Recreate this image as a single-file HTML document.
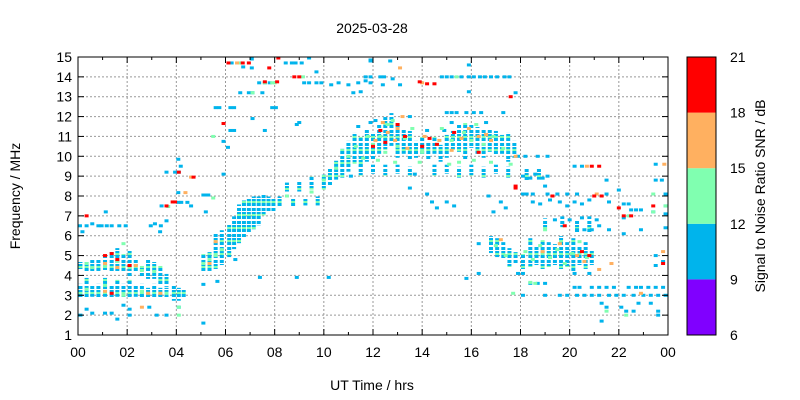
<!DOCTYPE html>
<html><head><meta charset="utf-8"><style>
body{margin:0;background:#fff;}
svg{display:block;font-family:"Liberation Sans",Arial,sans-serif;}
</style></head><body>
<svg id="chart" width="800" height="400" viewBox="0 0 800 400" xmlns="http://www.w3.org/2000/svg">
<defs>
<pattern id="streakFill" patternUnits="userSpaceOnUse" width="4" height="13">
<rect width="4" height="13" fill="#fff"/>
<rect y="0" width="4" height="3" fill="#00b4ec"/>
<rect y="4" width="4" height="2" fill="#00b4ec"/>
<rect y="6" width="4" height="2" fill="#80ffb0"/>
<rect y="8" width="4" height="3" fill="#00b4ec"/>
</pattern>
</defs>
<rect width="800" height="400" fill="#fff"/>
<text x="372" y="33" font-size="14" text-anchor="middle">2025-03-28</text>
<g id="grid"></g>
<g id="marks"></g>
<g id="axes"></g>
<text x="372" y="390" font-size="14" text-anchor="middle">UT Time / hrs</text>
<text transform="translate(20,196) rotate(-90)" font-size="14" text-anchor="middle">Frequency / MHz</text>
<g id="cbar"></g>
<text transform="translate(765,196) rotate(-90)" font-size="14" text-anchor="middle">Signal to Noise Ratio SNR / dB</text>
</svg>
<script>
const xTickLabels = ["00","02","04","06","08","10","12","14","16","18","20","22","00"];
const yTickLabels = [1,2,3,4,5,6,7,8,9,10,11,12,13,14,15];
const snrBounds = [6,9,12,15,18,21];
const snrColors = ["#8000ff","#00b4ec","#80ffb0","#ffb060","#ff0000"];
// streaks: [hour, fLow, fHigh] (mostly blue, SNR ~10)
const streaks = [
[0.1,4.4,4.6],[0.35,4.25,4.6],[0.58,4.2,4.7],[0.83,4.3,4.8],[1.1,4.35,4.9],[1.37,4.2,5.1],[1.6,4.2,5.3],[1.85,4.3,5.0],[2.1,4.0,5.2],[2.35,4.2,4.8],[2.6,4.0,4.4],[2.85,3.9,4.8],[3.1,3.9,4.6],[3.35,3.6,4.4],[3.6,3.5,4.0],
[0.1,2.9,3.5],[0.35,2.9,3.8],[0.58,3.0,3.4],[0.83,2.9,3.5],[1.1,3.0,3.8],[1.37,2.9,3.4],[1.6,3.0,3.7],[1.85,2.9,3.5],[2.1,2.9,3.7],[2.35,3.0,3.4],[2.6,2.9,3.5],[2.85,2.9,3.3],[3.1,2.9,3.5],[3.35,2.9,3.3],[3.6,2.9,3.3],[3.9,2.8,3.4],[4.1,2.8,3.3],[4.3,2.9,3.2],
[5.1,4.3,5.0],[5.35,4.3,5.1],[5.6,4.4,6.1],[5.85,4.6,6.2],
[6.15,5.0,6.5],[6.35,5.4,6.9],[6.55,5.7,7.5],[6.75,6.0,7.7],[6.95,6.2,7.8],[7.15,6.4,7.9],[7.35,6.6,7.9],[7.55,7.1,8.0],[7.75,7.3,7.9],[7.95,7.3,7.8],
[8.2,7.5,7.9],[8.5,8.3,8.6],[8.75,7.5,7.8],[9.0,8.3,8.7],[9.25,7.6,7.8],[9.5,8.4,8.9],[9.75,7.6,7.9],[10.0,8.4,9.0],[10.25,8.6,9.3],[10.5,8.9,9.7],[10.75,9.0,10.3],[11.0,9.3,10.7],[11.25,9.7,11.1],[11.5,9.5,10.9],[11.75,9.8,11.3],
[12.0,9.9,11.1],[12.25,10.2,11.5],[12.5,10.4,11.9],[12.75,10.6,12.1],[13.0,10.0,11.6],[13.25,10.2,11.3],[13.5,9.9,11.2],[13.75,10.0,10.7],[14.0,10.1,10.9],[14.25,9.9,10.6],[14.5,10.2,10.9],[14.75,9.8,10.5],[15.0,10.0,11.0],[15.25,10.4,11.2],[15.5,10.3,11.5],[15.75,9.9,11.6],[16.0,10.5,11.5],[16.25,10.2,11.4],[16.5,10.0,11.3],[16.75,10.3,11.3],[17.0,10.1,11.2],[17.25,10.2,11.0],[17.5,9.8,11.1],[17.75,10.0,10.7],
[11.5,9.1,9.5],[12.0,9.2,9.5],[12.5,9.1,9.5],[13.0,9.2,9.5],[13.5,9.1,9.4],[14.5,9.1,9.5],[15.0,9.2,9.5],[15.5,9.0,9.4],[16.0,9.1,9.5],[16.5,9.0,9.4],[17.0,9.2,9.5],[17.5,9.0,9.4],[18.25,8.8,9.3],[18.75,8.9,9.3],
[16.8,5.2,5.9],[17.05,5.0,5.8],[17.3,4.9,5.6],[17.55,4.5,5.3],[17.8,4.7,5.1],[18.1,4.4,5.0],[18.4,4.5,5.8],[18.65,4.6,5.4],[18.9,4.4,5.7],[19.15,4.5,5.6],[19.4,4.6,5.5],[19.65,4.4,5.9],[19.9,4.5,5.6],[20.15,4.3,5.8],[20.4,4.6,5.4],[20.65,4.4,5.6],[20.9,4.6,5.2],[19.0,6.4,6.8],[19.7,6.5,6.9],[20.3,6.2,6.7],[20.8,6.2,6.9]
];
const blueSpots = [
[0.08,6.5],[0.35,6.5],[0.58,6.6],[0.83,6.5],[0.96,6.5],[1.17,6.5],[1.37,6.5],[1.68,6.5],[1.94,6.5],[2.96,6.5],[3.13,6.6],[3.37,6.5],[3.34,6.2],[3.6,6.75],[1.13,7.2],[0.18,6.2],
[0.1,2.0],[0.35,2.3],[0.58,2.1],[1.1,2.1],[1.37,2.1],[1.6,1.8],[1.85,2.5],[2.1,2.0],[2.1,2.3],[2.9,2.4],[3.2,2.0],[3.6,2.0],[4.1,2.4],[5.1,1.6],
[3.6,9.2],[3.95,9.2],[4.1,9.2],[4.08,9.85],[4.18,9.5],[4.08,8.17],[4.08,7.68],[4.2,7.68],[4.45,7.68],[4.6,7.5],[5.1,8.05],[5.2,8.05],[5.3,8.05],[5.2,7.2],[3.4,7.5],[5.67,3.7],[5.1,3.55],[6.4,4.8],[7.4,3.9],[8.9,3.9],[10.2,3.9],[5.92,9.1],
[6.25,14.7],[7.07,14.9],[8.45,14.7],[8.7,14.7],[8.85,14.7],[9.1,14.7],[9.4,14.95],[11.9,14.8],[6.72,14.5],[7.07,14.45],
[7.37,13.7],[7.6,13.7],[7.8,13.7],[9.2,13.7],[9.4,13.7],[9.7,13.7],[9.9,13.7],[10.3,13.6],[10.6,13.7],[11.0,13.6],[11.4,13.7],[11.7,13.8],[11.9,13.7],[11.7,14.0],[11.9,14.0],[9.7,14.25],
[6.6,13.2],[6.95,13.2],[7.1,13.2],[7.5,13.2],[11.2,13.2],[5.6,12.45],[5.75,12.45],[6.2,12.45],[6.35,12.45],[7.9,12.45],[8.05,12.45],[7.1,11.9],[8.9,11.6],[9.0,11.7],[7.6,11.3],[6.2,11.3],[6.35,11.3],[5.92,10.75],[6.1,10.45],
[12.3,14.0],[12.45,14.0],[12.8,13.9],[12.7,14.8],[11.9,14.85],[11.5,13.25],[12.4,13.6],[13.1,13.6],[15.9,14.6],[14.8,14.0],[15.0,14.0],[15.2,14.0],[15.6,14.0],[15.9,14.0],[16.1,14.0],[16.35,14.0],[16.55,14.0],[16.8,14.0],[17.05,14.0],[17.35,14.0],[17.55,14.0],[17.8,13.2],[15.9,13.25],
[15.0,12.2],[15.2,12.2],[15.4,12.2],[15.8,12.2],[16.1,12.2],[16.4,12.2],[17.3,12.2],[15.2,11.7],
[17.9,10.0],[18.2,10.0],[18.7,10.0],[19.1,10.0],[20.2,9.5],[20.5,9.5],[21.5,8.8],[23.5,8.8],[23.75,8.8],[23.5,9.6],
[18.1,9.0],[18.4,8.9],[18.6,9.1],[18.9,8.9],[19.1,9.0],[19.0,8.5],
[18.1,8.1],[18.25,8.1],[18.5,8.1],[19.1,8.1],[19.5,8.1],[19.9,8.1],[20.3,8.1],[21.5,8.1],[22.0,8.3],[23.9,8.1],
[18.5,7.7],[18.8,7.6],[19.2,7.8],[19.6,7.7],[19.9,7.5],[20.2,7.7],[20.5,7.6],[20.8,7.8],[21.6,7.7],[22.2,7.6],[22.4,7.6],[22.5,7.3],[22.7,7.3],[22.9,7.3],[23.9,7.5],[23.4,7.2],[23.9,7.1],[22.2,6.9],[23.9,6.4],[21.6,6.3],[22.9,6.3],[22.2,6.1],
[19.4,6.8],[20.0,6.8],[20.5,6.9],[21.1,6.8],[21.2,6.5],[20.9,6.3],[20.6,6.3],[20.3,6.3],
[16.3,5.6],[16.3,4.1],[15.8,3.85],[17.9,4.1],[18.1,4.1],[20.2,4.1],[20.8,4.1],
[18.4,3.6],[18.7,3.6],[19.0,3.6],[20.2,3.4],[20.4,3.4],[20.9,3.4],[21.2,3.4],[21.5,3.4],[21.8,3.4],[22.4,3.4],[22.7,3.4],[22.9,3.4],[23.2,3.4],[23.5,3.4],[23.8,3.4],
[18.1,3.0],[19.0,3.0],[19.6,3.0],[19.9,3.0],[20.3,3.0],[20.6,3.0],[20.9,3.0],[21.2,3.0],[21.6,3.0],[21.9,3.0],[22.2,3.0],[22.6,3.0],[23.0,3.0],[23.3,3.0],[23.6,3.0],[23.9,3.0],
[21.3,2.6],[21.5,2.4],[22.1,2.4],[22.3,2.2],[22.6,2.2],[22.8,2.6],[23.3,2.6],[23.6,2.2],[23.6,2.0],[21.3,1.7],[23.5,4.5],[23.8,4.7],[23.5,5.0],
[11.4,11.5],[11.9,11.7],[12.1,11.8],[13.5,12.0],[14.2,11.3],[14.9,11.3],[16.6,11.7],[11.1,9.0],[13.7,9.1],[14.2,8.1],[14.4,7.7],[14.6,7.4],[15.0,7.7],[15.3,7.5],[13.5,8.4],[16.7,8.0],[17.2,7.7],[17.4,7.4],[16.9,7.2]
];
const greenSpots = [
[0.35,4.6],[0.58,4.4],[1.1,4.5],[1.6,4.7],[1.85,5.6],[2.1,4.4],[2.6,4.25],[3.1,4.2],[0.35,3.3],[1.1,3.5],[1.85,3.0],[2.6,3.2],[3.6,3.1],[4.1,2.4],[4.1,2.0],[5.1,4.6],[5.35,4.8],[5.6,5.0],[5.85,5.3],[5.5,7.9],[3.67,7.47],[5.5,11.0],
[6.6,14.7],[7.6,13.7],[7.9,13.7],[8.0,13.7],[9.15,14.0],[7.1,13.2],[8.5,8.0],[9.5,8.2],[10.0,8.8],[10.5,9.4],[11.0,10.0],[11.3,10.5],[11.6,9.9],[12.0,10.6],[12.3,11.0],[12.5,10.2],[12.8,11.8],[13.0,10.5],[13.3,10.9],[13.6,11.4],[14.0,10.2],[14.6,10.6],[15.2,10.8],[15.5,9.7],[15.7,11.2],[16.0,10.8],[16.2,11.6],[16.5,10.6],[16.9,11.0],[17.3,10.4],[17.6,9.6],[15.4,14.0],[11.8,11.0],
[17.0,5.5],[17.4,5.0],[18.2,5.2],[18.5,4.8],[18.8,5.5],[19.2,4.9],[19.5,5.3],[19.8,4.6],[20.1,5.1],[20.4,5.7],[20.7,4.9],[19.0,6.3],[18.4,3.65],[18.6,3.6],[17.7,3.1],[23.4,8.1],[22.4,7.0],[23.4,7.2],[21.5,2.2],[22.3,2.0],[23.9,7.5],
[12.2,9.8],[12.9,9.7],[13.9,9.7],[15.1,9.6],[16.1,9.8],[16.8,9.7],[14.8,11.4],[12.6,11.6]
];
const orangeSpots = [
[1.1,4.6],[1.6,4.4],[2.35,4.5],[2.6,2.4],[1.1,3.2],[2.85,3.1],[3.35,3.1],[4.6,8.95],[4.37,8.17],[5.35,4.6],[5.6,5.7],[6.47,14.7],
[12.1,10.8],[12.6,11.2],[13.0,11.4],[13.4,10.4],[14.1,11.0],[14.7,10.8],[15.2,10.3],[15.9,11.4],[16.3,11.0],[16.8,10.8],[14.0,13.7],[13.1,14.45],[17.8,10.0],
[17.2,5.8],[18.9,5.2],[19.6,5.6],[20.3,5.0],[20.6,4.7],[20.7,9.5],[21.2,4.3],[21.7,4.6],[21.1,8.1],[23.85,9.6],[23.8,5.2],[22.9,3.1],
[12.4,11.7],[13.2,12.0],[15.6,10.9],[16.6,11.1],[12.9,10.8]
];
const redSpots = [
[0.35,7.0],[1.1,5.0],[1.37,5.1],[1.6,4.8],[2.1,4.5],[1.37,3.1],[3.6,7.5],[3.85,7.7],[3.95,7.7],[4.1,9.2],[4.7,8.95],[5.92,11.65],
[6.12,14.7],[6.95,14.7],[6.7,14.7],[8.15,14.95],[7.78,14.45],[7.6,13.75],[8.1,13.75],[8.8,14.0],[9.0,14.0],
[12.0,10.5],[12.3,11.3],[12.5,10.7],[13.0,11.6],[13.3,11.0],[14.0,10.5],[14.3,10.9],[14.6,10.6],[15.3,11.2],[16.3,10.2],[13.9,13.75],[14.2,13.65],[14.5,13.65],[17.6,13.0],[17.8,8.5],[17.8,8.4],
[19.3,8.0],[19.8,6.5],[20.5,5.2],[20.8,5.0],[20.9,9.5],[21.2,9.5],[21.0,8.0],[21.3,8.0],[22.2,7.0],[22.5,7.0],[22.0,7.4],[23.4,7.5],[23.8,4.6]
];

const X0=78, X1=668, Y0=335, Y1=57;
const xs = h => X0 + (h/24)*(X1-X0);
const ys = f => Y0 - ((f-1)/14)*(Y0-Y1);
const NS="http://www.w3.org/2000/svg";
function mk(tag, parent, attrs){const e=document.createElementNS(NS,tag);for(const k in attrs)e.setAttribute(k,attrs[k]);parent.appendChild(e);return e;}
function colorFor(s){for(let i=0;i<snrColors.length;i++){if(s<snrBounds[i+1])return snrColors[i];}return snrColors[snrColors.length-1];}

const grid=document.getElementById('grid');
xTickLabels.forEach((l,i)=>{ if(i>0&&i<xTickLabels.length-1){
  const g=mk('line',grid,{x1:xs(i*2),x2:xs(i*2),y1:Y1,y2:Y0,stroke:'#999','stroke-dasharray':'2,2','stroke-width':1});
  
  }});
yTickLabels.forEach(v=>{ if(v>1&&v<15){
  const g=mk('line',grid,{x1:X0,x2:X1,y1:ys(v),y2:ys(v),stroke:'#999','stroke-dasharray':'2,2','stroke-width':1});
  
  }});

const marks=document.getElementById('marks');
const W=4, H=3;
streaks.forEach(d=>{
  const r=mk('rect',marks,{x:xs(d[0])-W/2,y:ys(d[2])-H/2,width:W,height:ys(d[1])-ys(d[2])+H,fill:'url(#streakFill)'});
  
  
});
[[blueSpots,10.5],[greenSpots,13.5],[orangeSpots,16.5],[redSpots,19.5]].forEach(([arr,s])=>{
  arr.forEach(d=>{
    const r=mk('rect',marks,{x:xs(d[0])-W/2,y:ys(d[1])-H/2,width:W,height:H,fill:colorFor(s)});
    
    
  });
});

const axes=document.getElementById('axes');
mk('rect',axes,{x:X0,y:Y1,width:X1-X0,height:Y0-Y1,fill:'none',stroke:'#000','stroke-width':1});
for(let h=0;h<=24;h++){
  const len=(h%2===0)?6:3;
  mk('line',axes,{x1:xs(h),x2:xs(h),y1:Y0,y2:Y0-len,stroke:'#000'});
  mk('line',axes,{x1:xs(h),x2:xs(h),y1:Y1,y2:Y1+len,stroke:'#000'});
}
xTickLabels.forEach((l,i)=>{
  const t=mk('text',axes,{x:xs(i*2),y:Y0+22,'font-size':14,'text-anchor':'middle'});
  t.textContent=l;
  
  
});
yTickLabels.forEach(v=>{
  mk('line',axes,{x1:X0,x2:X0+6,y1:ys(v),y2:ys(v),stroke:'#000'});
  mk('line',axes,{x1:X1,x2:X1-6,y1:ys(v),y2:ys(v),stroke:'#000'});
  const t=mk('text',axes,{x:X0-6,y:ys(v)+5,'font-size':14,'text-anchor':'end'});
  t.textContent=v;
  
  
});

const cbar=document.getElementById('cbar');
const CX=687, CW=29;
const cy = s => Y0 - ((s-6)/15)*(Y0-Y1);
snrColors.forEach((c,i)=>{
  const r=mk('rect',cbar,{x:CX,y:cy(snrBounds[i+1]),width:CW,height:cy(snrBounds[i])-cy(snrBounds[i+1]),fill:c});
  
  
});
mk('rect',cbar,{x:CX,y:Y1,width:CW,height:Y0-Y1,fill:'none',stroke:'#000'});
snrBounds.forEach(s=>{
  const t=mk('text',cbar,{x:730,y:cy(s)+5,'font-size':14,'text-anchor':'start'});
  t.textContent=s;
  
  
});
</script>
</body></html>
